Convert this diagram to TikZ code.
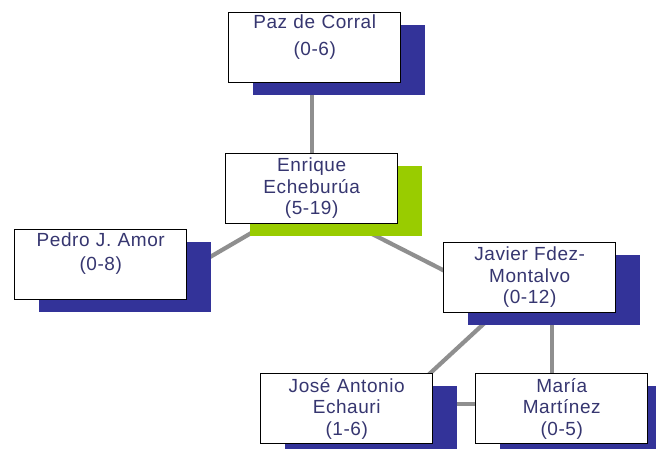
\documentclass[tikz,border=0pt]{standalone}
\usepackage{fontspec}
\setmainfont{Liberation Sans}[LetterSpace=3]
\usetikzlibrary{calc,shadows}
\pgfdeclarelayer{background}
\pgfsetlayers{background,main}
\definecolor{shblue}{HTML}{333399}
\definecolor{shgreen}{HTML}{99CC00}
\definecolor{txtc}{HTML}{363670}
\definecolor{linec}{HTML}{8F8F8F}
\tikzset{
  person/.style={draw=black, line width=1.4pt, fill=white, minimum width=172pt,
    minimum height=70pt, inner sep=0pt, anchor=north west},
  blueshadow/.style={drop shadow={shadow xshift=24.5pt, shadow yshift=-12.5pt,
    fill=shblue, opacity=1}},
  greenshadow/.style={drop shadow={shadow xshift=24.5pt, shadow yshift=-12.5pt,
    fill=shgreen, opacity=1}},
  lbl/.style={anchor=base, text width=172pt, align=center, inner sep=0pt,
    text=txtc, font=\fontsize{19}{21.5}\selectfont},
  link/.style={draw=linec, line width=4.2pt}
}
\begin{document}
\begin{tikzpicture}[x=1pt, y=-1pt]
\useasboundingbox (0,0) rectangle (656,449);
\clip (0,0) rectangle (656,449);
% boxes
\node[person, blueshadow]  (paz)    at (228,12)  {};
\node[person, greenshadow] (enr)    at (225,153) {};
\node[person, blueshadow]  (pedro)  at (14,229)  {};
\node[person, blueshadow]  (javier) at (443,242) {};
\node[person, blueshadow]  (jose)   at (260,373) {};
\node[person, blueshadow]  (maria)  at (475,373) {};
% texts
\node[lbl] (pazt)    at ($(paz.north)+(0,17)$)    {Paz de Corral\\[5.5pt](0-6)};
\node[lbl] (enrt)    at ($(enr.north)+(0,19)$)    {Enrique\\Echeburúa\\(5-19)};
\node[lbl] (pedrot)  at ($(pedro.north)+(0,18)$)  {Pedro J. Amor\\[2.5pt](0-8)};
\node[lbl] (javiert) at ($(javier.north)+(0,19)$) {Javier Fdez-\\Montalvo\\(0-12)};
\node[lbl] (joset)   at ($(jose.north)+(0,19)$)   {José Antonio\\Echauri\\(1-6)};
\node[lbl] (mariat)  at ($(maria.north)+(0,19)$)  {María\\Martínez\\(0-5)};
% connectors behind everything
\begin{pgfonlayer}{background}
  \coordinate (hub) at ($(enr.center)+(-5,12)$);
  \draw[link] (enr.north) -- (enr.north |- paz.south);
  \draw[link] (hub) -- ($(pedro.east)+(-6,9)$);
  \draw[link] (hub) -- ($(javier.west)+(17,1)$);
  \draw[link] ($(javier.south west)+(65,-12)$) -- ($(jose.north east)+(-16,12)$);
  \draw[link] ($(javier.south west)+(109,-12)$) -- ($(maria.north west)+(77,12)$);
  \draw[link] ($(jose.east)+(8,-5)$) -- ($(maria.west)+(15,-5)$);
\end{pgfonlayer}
\end{tikzpicture}
\end{document}
